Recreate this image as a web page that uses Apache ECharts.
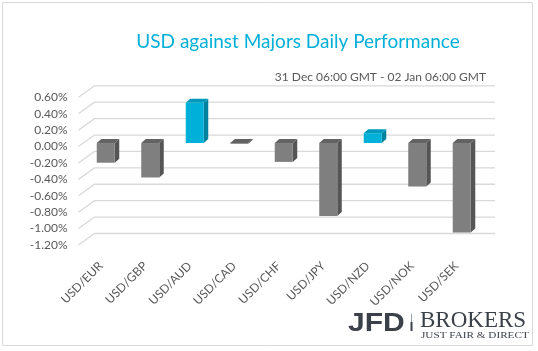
<!DOCTYPE html>
<html>
<head>
<meta charset="utf-8">
<script src="https://cdn.jsdelivr.net/npm/echarts@6/dist/echarts.min.js"></script>
<style>
html,body{margin:0;padding:0;background:#fff;}
#main{width:538px;height:351px;}
</style>
</head>
<body>
<div id="main"></div>
<script>
// 数据
var pairs = ['USD/EUR', 'USD/GBP', 'USD/AUD', 'USD/CAD', 'USD/CHF', 'USD/JPY', 'USD/NZD', 'USD/NOK', 'USD/SEK'];
var changes = [-0.24, -0.42, 0.49, -0.01, -0.23, -0.89, 0.12, -0.53, -1.09];
var yTicks = [0.6, 0.4, 0.2, 0, -0.2, -0.4, -0.6, -0.8, -1.0, -1.2];

// 3D偏移
var BACK_DX = 16, BACK_DY = -11.5;
var FRONT_DX = 5, FRONT_DY = -3.5;
var DEPTH_DX = 4.5, DEPTH_DY = -4;

var chart = echarts.init(document.getElementById('main'));

function renderGrid(params, api){
	var cs = params.coordSys;
	var y = api.coord([0, api.value(1)])[1];
	return {
		type: 'polyline',
		shape: {points: [[cs.x, y], [cs.x + BACK_DX, y + BACK_DY], [cs.x + cs.width + BACK_DX, y + BACK_DY]]},
		style: {stroke: '#d9d9d9', lineWidth: 1.3, fill: null},
		silent: true
	};
}

function renderBar(params, api){
	var i = api.value(0), v = api.value(1);
	var base = api.coord([i, 0]);
	var top = api.coord([i, v]);
	var bw = api.size([1, 0])[0] * 0.405;
	var x0 = base[0] + FRONT_DX - bw / 2, x1 = x0 + bw;
	var y0 = Math.min(base[1], top[1]) + FRONT_DY;
	var y1 = Math.max(base[1], top[1]) + FRONT_DY;
	var pos = v > 0;
	var c = pos ? ['#00b0d8', '#00819e', '#0099bd'] : ['#7f7f7f', '#555555', '#636363'];
	return {
		type: 'group',
		children: [
			{type: 'polygon', shape: {points: [[x1, y0], [x1 + DEPTH_DX, y0 + DEPTH_DY], [x1 + DEPTH_DX, y1 + DEPTH_DY], [x1, y1]]}, style: {fill: c[1]}},
			{type: 'polygon', shape: {points: [[x0, y0], [x0 + DEPTH_DX, y0 + DEPTH_DY], [x1 + DEPTH_DX, y0 + DEPTH_DY], [x1, y0]]}, style: {fill: c[2]}},
			{type: 'rect', shape: {x: x0, y: y0, width: bw, height: Math.max(y1 - y0, 0.5)}, style: {fill: c[0]}}
		]
	};
}

var option = {
	animation: false,
	title: [{
		text: 'USD against Majors Daily Performance',
		left: 293, top: 27, textAlign: 'center',
		textStyle: {fontFamily: 'Lato', fontSize: 19, fontWeight: 'normal', color: '#00b0d8'}
	}, {
		text: '31 Dec 06:00 GMT - 02 Jan 06:00 GMT',
		right: 47, top: 66,
		textStyle: {fontFamily: 'Lato', fontSize: 12, fontWeight: 'normal', color: '#595959'}
	}],
	grid: {left: 78.5, right: 59, top: 97.3, bottom: 106},
	xAxis: {
		type: 'category',
		data: pairs,
		axisLine: {show: false},
		axisTick: {show: false},
		axisLabel: {rotate: 45, margin: 19, color: '#595959', fontFamily: 'Lato', fontSize: 12, interval: 0}
	},
	yAxis: {
		type: 'value',
		min: -1.2, max: 0.6, interval: 0.2,
		axisLine: {show: false},
		axisTick: {show: false},
		splitLine: {show: false},
		axisLabel: {
			margin: 11, color: '#595959', fontFamily: 'Lato', fontSize: 12,
			formatter: function(v){ return v.toFixed(2) + '%'; }
		}
	},
	series: [{
		type: 'custom',
		renderItem: renderGrid,
		clip: false,
		silent: true,
		data: yTicks.map(function(t){ return [0, t]; }),
		z: 1
	}, {
		type: 'custom',
		renderItem: renderBar,
		clip: false,
		data: changes.map(function(v, i){ return [i, v]; }),
		z: 2
	}],
	graphic: [
		{type: 'rect', shape: {x: 2.5, y: 2.5, width: 530, height: 343}, style: {fill: null, stroke: '#d9d9d9', lineWidth: 1}, silent: true},
		{type: 'text', x: 348, y: 312, scaleX: 1.2, style: {text: 'JFD', font: 'bold 25px "Liberation Sans"', fill: '#3b4049'}},
		{type: 'rect', shape: {x: 411, y: 314, width: 1, height: 8}, style: {fill: '#9aa0a8'}},
		{type: 'rect', shape: {x: 410.5, y: 322, width: 2, height: 9}, style: {fill: '#3b4049'}},
		{type: 'text', x: 420, y: 309, style: {text: 'BROKERS', font: '23px "Liberation Serif"', fill: '#3b4049'}},
		{type: 'text', x: 421, y: 332, scaleX: 1.4, style: {text: 'JUST FAIR & DIRECT', font: '8px "Liberation Serif"', fill: '#3b4049'}}
	]
};
chart.setOption(option);
</script>
</body>
</html>
